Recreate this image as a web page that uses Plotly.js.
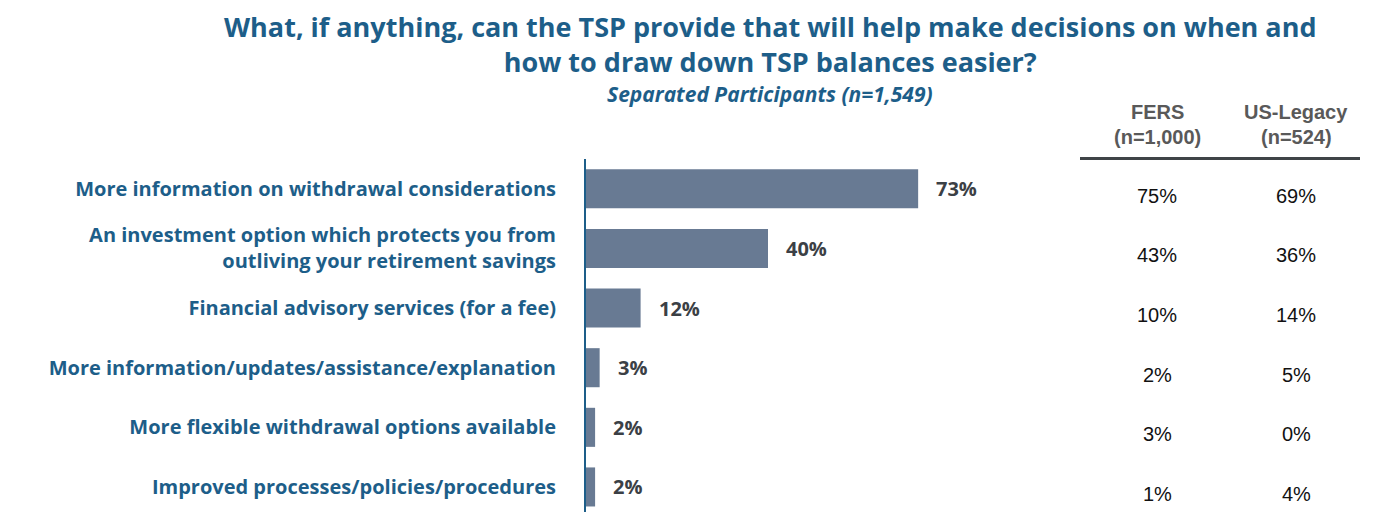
<!DOCTYPE html>
<html><head><meta charset="utf-8">
<script src="https://cdn.plot.ly/plotly-3.0.1.min.js"></script>
<style>body{margin:0;background:#fff}#chart{width:1391px;height:512px}</style>
</head><body><div id="chart"></div>
<script>
const categories = [
  "More information on withdrawal considerations",
  "An investment option which protects you from<br>outliving your retirement savings",
  "Financial advisory services (for a fee)",
  "More information/updates/assistance/explanation",
  "More flexible withdrawal options available",
  "Improved processes/policies/procedures"
];
const totalValues = [73, 40, 12, 3, 2, 2];
const fersValues = [75, 43, 10, 2, 3, 1];
const legacyValues = [69, 36, 14, 5, 0, 4];
const columnHeaders = ["FERS", "US-Legacy"];
const columnSubHeaders = ["(n=1,000)", "(n=524)"];

const BLUE = "#1d5e89";
const BAR = "#687a93";
const LABEL_FONT = "'Open Sans', Lato, sans-serif";
const TABLE_FONT = "'Liberation Sans', Arial, sans-serif";

const pxPerUnit = 4.55;
const plotW = 1391 - 586;
const plotH = 512 - 159;
const colX = [(1157 - 586) / pxPerUnit, (1296 - 586) / pxPerUnit];
const pyPaper = (py) => (512 - py) / plotH;
const pxPaper = (px) => (px - 586) / plotW;

const trace = {
  type: "bar", orientation: "h",
  x: totalValues, y: categories,
  marker: {color: BAR},
  width: 0.655,
  hoverinfo: "skip"
};

const annotations = [];
categories.forEach((c, i) => {
  annotations.push({x: totalValues[i], y: c, xref: "x", yref: "y", text: totalValues[i] + "%",
    showarrow: false, xanchor: "left", xshift: 16, font: {family: LABEL_FONT, size: 20, weight: "bold", color: "#3b4045"}});
  [fersValues, legacyValues].forEach((arr, k) => {
    annotations.push({x: colX[k], y: c, xref: "x", yref: "y", text: arr[i] + "%", showarrow: false,
      xanchor: "center", yshift: -7, font: {family: TABLE_FONT, size: 20, color: "#111"}});
  });
});
columnHeaders.forEach((h, k) => {
  annotations.push({x: colX[k], y: pyPaper(112), xref: "x", yref: "paper", text: h, showarrow: false,
    xanchor: "center", yanchor: "middle", font: {family: TABLE_FONT, size: 20, weight: "bold", color: "#595959"}});
  annotations.push({x: colX[k], y: pyPaper(137), xref: "x", yref: "paper", text: columnSubHeaders[k], showarrow: false,
    xanchor: "center", yanchor: "middle", font: {family: TABLE_FONT, size: 20, weight: "bold", color: "#595959"}});
});
annotations.push({x: pxPaper(770), y: pyPaper(43.5), xref: "paper", yref: "paper", showarrow: false,
  text: "What, if anything, can the TSP provide that will help make decisions on when and<br>how to draw down TSP balances easier?",
  xanchor: "center", yanchor: "middle", align: "center",
  font: {family: LABEL_FONT, size: 27, weight: "bold", color: BLUE}});
annotations.push({x: pxPaper(770), y: pyPaper(94), xref: "paper", yref: "paper", showarrow: false,
  text: "<i>Separated Participants (n=1,549)</i>", xanchor: "center", yanchor: "middle",
  font: {family: LABEL_FONT, size: 21, weight: "bold", color: BLUE}});

const layout = {
  width: 1391, height: 512,
  margin: {l: 586, r: 0, t: 159, b: 0},
  paper_bgcolor: "#fff", plot_bgcolor: "#fff",
  showlegend: false,
  xaxis: {range: [0, plotW / pxPerUnit], showgrid: false, zeroline: false, showticklabels: false, showline: false, fixedrange: true},
  yaxis: {type: "category", range: [5.42, -0.5], showgrid: false, zeroline: false, showline: true, linecolor: BLUE, linewidth: 2,
    ticks: "", ticklabelstandoff: 24, tickfont: {family: LABEL_FONT, size: 20, weight: "bold", color: BLUE}, fixedrange: true},
  shapes: [{type: "line", xref: "x", yref: "paper", x0: (1080 - 586) / pxPerUnit, x1: (1360 - 586) / pxPerUnit,
    y0: pyPaper(158.5), y1: pyPaper(158.5), line: {color: "#3f4447", width: 3}}],
  annotations: annotations,
  bargap: 0.3
};
Plotly.newPlot("chart", [trace], layout, {displayModeBar: false, staticPlot: true});
</script></body></html>
